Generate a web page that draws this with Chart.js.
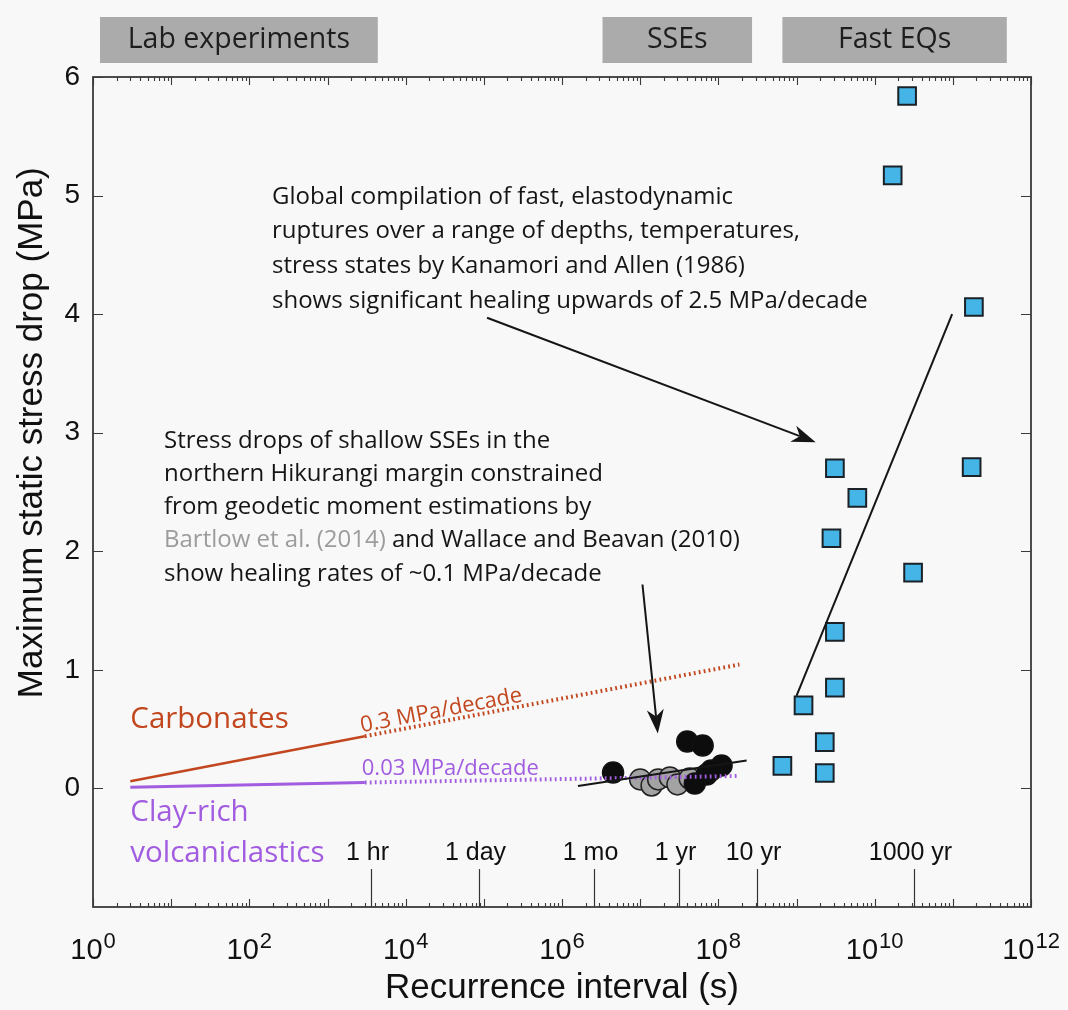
<!DOCTYPE html>
<html>
<head>
<meta charset="utf-8">
<script src="https://cdn.jsdelivr.net/npm/chart.js@4.4.1/dist/chart.umd.min.js"></script>
<style>
  html, body { margin: 0; padding: 0; background: #f8f8f8; }
  #wrap { width: 1068px; height: 1010px; }
</style>
</head>
<body>
<div id="wrap"><canvas id="c" width="1068" height="1010"></canvas></div>
<script>
// Fast earthquakes (Kanamori and Allen, 1986): recurrence interval (s), max static stress drop (MPa)
const eqInterval   = [2.6e10, 1.7e10, 1.86e11, 3.1e9, 6.0e9, 1.74e11, 2.8e9, 3.1e10, 3.1e9, 3.1e9, 1.23e9, 2.3e9, 6.6e8, 2.3e9];
const eqStressDrop = [5.84, 5.17, 4.06, 2.70, 2.45, 2.71, 2.11, 1.82, 1.32, 0.85, 0.70, 0.39, 0.19, 0.13];

// Shallow Hikurangi SSEs: Wallace and Beavan (2010), black
const wbInterval   = [4.5e6, 4.0e7, 6.3e7, 1.1e8, 7.1e7, 5.0e7, 8.1e7];
const wbStressDrop = [0.135, 0.396, 0.362, 0.194, 0.118, 0.042, 0.152];

// Shallow Hikurangi SSEs: Bartlow et al. (2014), grey
const bartlowInterval   = [1.0e7, 1.4e7, 1.7e7, 2.4e7, 3.0e7, 4.3e7];
const bartlowStressDrop = [0.076, 0.025, 0.076, 0.093, 0.034, 0.084];

// Trend lines
const eqTrendInterval  = [1.0e9, 9.8e10];
const eqTrendDrop      = [0.78, 4.0];
const sseTrendInterval = [1.6e6, 2.3e8];
const sseTrendDrop     = [0.02, 0.236];

// Lab healing rates: measured (solid) then extrapolated (dotted)
const carbInterval = [3, 3.0e3, 1.86e8];
const carbDrop     = [0.06, 0.44, 1.045];
const clayInterval = [3, 3.0e3, 1.8e8];
const clayDrop     = [0.01, 0.05, 0.105];

// Reference durations along the bottom axis
const timeMarkLabels  = ['1 hr', '1 day', '1 mo', '1 yr', '10 yr', '1000 yr'];
const timeMarkSeconds = [3600, 86400, 2.6e6, 3.156e7, 3.156e8, 3.156e10];

// Axis ticks
const yTickValues = [0, 1, 2, 3, 4, 5, 6];
const xLabelExponents = [0, 2, 4, 6, 8, 10, 12];

// Regime banners above the plot
const regimeLabels = ['Lab experiments', 'SSEs', 'Fast EQs'];
const regimeFrom   = [1.23, 3.3e6, 6.6e8];
const regimeTo     = [4.4e3, 2.7e8, 4.9e11];

// Annotation text
const eqNote = [
  'Global compilation of fast, elastodynamic',
  'ruptures over a range of depths, temperatures,',
  'stress states by Kanamori and Allen (1986)',
  'shows significant healing upwards of 2.5 MPa/decade'
];
const sseNoteTop = [
  'Stress drops of shallow SSEs in the',
  'northern Hikurangi margin constrained',
  'from geodetic moment estimations by'
];
const sseNoteCite = ['Bartlow et al. (2014)', ' and Wallace and Beavan (2010)'];
const sseNoteLast = 'show healing rates of ~0.1 MPa/decade';

const RED = '#c2471f';
const PURPLE = '#a15ce0';
const INK = '#151515';
const SANS = '"Open Sans", "Noto Sans", sans-serif';
const ARIAL = '"Liberation Sans", Arial, sans-serif';

const pts = (xs, ys) => xs.map((x, i) => ({ x: x, y: ys[i] }));

function arrow(ctx, x0, y0, x1, y1) {
  const a = Math.atan2(y1 - y0, x1 - x0);
  const L = 24, W = 8.5, N = 17;
  ctx.save();
  ctx.strokeStyle = INK; ctx.fillStyle = INK; ctx.lineWidth = 2;
  ctx.beginPath();
  ctx.moveTo(x0, y0);
  ctx.lineTo(x1 - Math.cos(a) * N, y1 - Math.sin(a) * N);
  ctx.stroke();
  ctx.translate(x1, y1); ctx.rotate(a);
  ctx.beginPath();
  ctx.moveTo(0, 0);
  ctx.lineTo(-L, -W);
  ctx.lineTo(-N, 0);
  ctx.lineTo(-L, W);
  ctx.closePath();
  ctx.fill();
  ctx.restore();
}

const decorations = {
  id: 'decorations',
  beforeDraw(chart) {
    const ctx = chart.ctx;
    ctx.save();
    ctx.fillStyle = '#f8f8f8';
    ctx.fillRect(0, 0, chart.width, chart.height);
    ctx.restore();
  },
  afterDatasetsDraw(chart) {
    const ctx = chart.ctx;
    const xs = chart.scales.x, ys = chart.scales.y;
    const X = v => xs.getPixelForValue(v);
    const Y = v => ys.getPixelForValue(v);
    const ca = chart.chartArea;

    ctx.save();
    // frame
    ctx.strokeStyle = '#3a3a3a';
    ctx.lineWidth = 1.8;
    ctx.strokeRect(ca.left, ca.top, ca.right - ca.left, ca.bottom - ca.top);

    // log minor/major ticks, inward, bottom and top
    ctx.lineWidth = 1.1;
    ctx.beginPath();
    for (let d = 0; d <= 12; d++) {
      for (let k = 1; k <= 9; k++) {
        if (d === 12 && k > 1) break;
        const px = Math.round(X(k * Math.pow(10, d))) + 0.5;
        const len = k === 1 ? 8 : 4;
        ctx.moveTo(px, ca.bottom); ctx.lineTo(px, ca.bottom - len);
        ctx.moveTo(px, ca.top); ctx.lineTo(px, ca.top + len);
      }
    }
    // y ticks, inward, left and right
    yTickValues.forEach(v => {
      const py = Math.round(Y(v)) + 0.5;
      ctx.moveTo(ca.left, py); ctx.lineTo(ca.left + 10, py);
      ctx.moveTo(ca.right, py); ctx.lineTo(ca.right - 10, py);
    });
    ctx.stroke();

    // x tick labels 10^n
    ctx.fillStyle = '#111';
    ctx.textBaseline = 'alphabetic';
    ctx.textAlign = 'left';
    xLabelExponents.forEach(e => {
      const px = X(Math.pow(10, e));
      ctx.font = '29px ' + ARIAL;
      const wb = ctx.measureText('10').width;
      ctx.font = '22px ' + ARIAL;
      const we = ctx.measureText(String(e)).width;
      const x0 = px - (wb + we + 1) / 2;
      ctx.font = '29px ' + ARIAL;
      ctx.fillText('10', x0, 959);
      ctx.font = '22px ' + ARIAL;
      ctx.fillText(String(e), x0 + wb + 1, 948);
    });

    // axis titles
    ctx.font = '35px ' + ARIAL;
    ctx.textAlign = 'center';
    ctx.textBaseline = 'middle';
    ctx.fillText('Recurrence interval (s)', (ca.left + ca.right) / 2, 988);
    ctx.save();
    ctx.translate(32, Y(3));
    ctx.rotate(-Math.PI / 2);
    ctx.fillText('Maximum static stress drop (MPa)', 0, 0);
    ctx.restore();

    // reference durations
    ctx.strokeStyle = '#333';
    ctx.lineWidth = 1.2;
    ctx.font = '25px ' + ARIAL;
    ctx.textAlign = 'center';
    ctx.textBaseline = 'alphabetic';
    timeMarkSeconds.forEach((s, i) => {
      const px = Math.round(X(s)) + 0.5;
      ctx.beginPath();
      ctx.moveTo(px, ca.bottom); ctx.lineTo(px, Y(-0.68));
      ctx.stroke();
      ctx.fillText(timeMarkLabels[i], px - 4, Y(-0.6));
    });

    // regime banners
    ctx.font = '28.5px ' + SANS;
    regimeLabels.forEach((lab, i) => {
      const x0 = X(regimeFrom[i]), x1 = X(regimeTo[i]);
      ctx.fillStyle = '#ababab';
      ctx.fillRect(x0, 17, x1 - x0, 46);
      ctx.fillStyle = '#1e1e1e';
      ctx.textAlign = 'center';
      ctx.textBaseline = 'middle';
      ctx.fillText(lab, (x0 + x1) / 2, 40);
    });

    // material labels
    ctx.textAlign = 'left';
    ctx.textBaseline = 'middle';
    ctx.font = '29.5px ' + SANS;
    ctx.fillStyle = RED;
    ctx.fillText('Carbonates', X(carbInterval[0]), Y(0.58));
    ctx.fillStyle = PURPLE;
    ctx.fillText('Clay-rich', X(clayInterval[0]), Y(-0.2));
    ctx.fillText('volcaniclastics', X(clayInterval[0]), Y(-0.55));

    // healing-rate labels
    ctx.font = '22px ' + SANS;
    ctx.textBaseline = 'alphabetic';
    ctx.fillStyle = PURPLE;
    ctx.fillText('0.03 MPa/decade', X(clayInterval[1]) - 3, Y(clayDrop[1]) - 8);
    const rx0 = X(carbInterval[1]), ry0 = Y(carbDrop[1]);
    const rx1 = X(carbInterval[2]), ry1 = Y(carbDrop[2]);
    ctx.save();
    ctx.fillStyle = RED;
    ctx.translate(rx0 - 3, ry0 - 4);
    ctx.rotate(Math.atan2(ry1 - ry0, rx1 - rx0));
    ctx.fillText('0.3 MPa/decade', 0, 0);
    ctx.restore();

    // notes
    ctx.font = '24px ' + SANS;
    ctx.fillStyle = INK;
    ctx.textBaseline = 'middle';
    const eqX = X(195), eqY = Y(4.99);
    eqNote.forEach((t, i) => ctx.fillText(t, eqX, eqY + i * 34.7));

    const sX = X(8.1), sY = Y(2.93), gap = 33.2;
    sseNoteTop.forEach((t, i) => ctx.fillText(t, sX, sY + i * gap));
    ctx.fillStyle = '#9c9c9c';
    ctx.fillText(sseNoteCite[0], sX, sY + 3 * gap);
    const wc = ctx.measureText(sseNoteCite[0]).width;
    ctx.fillStyle = INK;
    ctx.fillText(sseNoteCite[1], sX + wc, sY + 3 * gap);
    ctx.fillText(sseNoteLast, sX, sY + 4 * gap);

    // arrows
    arrow(ctx, X(1.1e5), Y(3.97), X(1.76e9), Y(2.92));
    arrow(ctx, X(1.07e7), Y(1.72), X(1.68e7), Y(0.463));

    ctx.restore();
  }
};

new Chart(document.getElementById('c'), {
  type: 'scatter',
  data: {
    datasets: [
      {
        label: 'Fast EQ trend',
        data: pts(eqTrendInterval, eqTrendDrop),
        showLine: true, pointRadius: 0, borderColor: INK, borderWidth: 2
      },
      {
        label: 'SSE trend',
        data: pts(sseTrendInterval, sseTrendDrop),
        showLine: true, pointRadius: 0, borderColor: INK, borderWidth: 2
      },
      {
        label: 'Clay-rich volcaniclastics',
        data: pts(clayInterval, clayDrop),
        showLine: true, pointRadius: 0, borderColor: PURPLE, borderWidth: 3,
        segment: {
          borderDash: c => c.p0DataIndex === 1 ? [1.8, 3.2] : undefined,
          borderWidth: c => c.p0DataIndex === 1 ? 4 : 3
        }
      },
      {
        label: 'Carbonates',
        data: pts(carbInterval, carbDrop),
        showLine: true, pointRadius: 0, borderColor: RED, borderWidth: 2.5,
        segment: {
          borderDash: c => c.p0DataIndex === 1 ? [1.8, 3.2] : undefined,
          borderWidth: c => c.p0DataIndex === 1 ? 4 : 2.5
        }
      },
      {
        label: 'Wallace and Beavan (2010)',
        data: pts(wbInterval, wbStressDrop),
        pointRadius: 10.5, pointStyle: 'circle',
        backgroundColor: '#0d0d0d', borderColor: '#111', borderWidth: 1.5
      },
      {
        label: 'Bartlow et al. (2014)',
        data: pts(bartlowInterval, bartlowStressDrop),
        pointRadius: 10.5, pointStyle: 'circle',
        backgroundColor: '#a3a3a3', borderColor: '#222', borderWidth: 1.5
      },
      {
        label: 'Fast EQs',
        data: pts(eqInterval, eqStressDrop),
        pointRadius: 12.5, pointStyle: 'rect',
        backgroundColor: '#45b4e6', borderColor: '#1a2228', borderWidth: 2
      }
    ]
  },
  options: {
    responsive: false,
    animation: false,
    events: [],
    layout: { padding: { top: 77, right: 37, bottom: 0, left: 0 } },
    plugins: { legend: { display: false }, tooltip: { enabled: false } },
    scales: {
      x: {
        type: 'logarithmic', min: 1, max: 1e12,
        grid: { display: false }, border: { display: false },
        ticks: { display: false },
        afterFit: s => { s.height = 103; }
      },
      y: {
        type: 'linear', min: -1, max: 6,
        grid: { display: false, drawTicks: false }, border: { display: false },
        afterBuildTicks: s => { s.ticks = yTickValues.map(v => ({ value: v })); },
        ticks: {
          padding: 13,
          color: '#111',
          font: { family: ARIAL, size: 28 }
        },
        afterFit: s => { s.width = 93; }
      }
    }
  },
  plugins: [decorations]
});
</script>
</body>
</html>
